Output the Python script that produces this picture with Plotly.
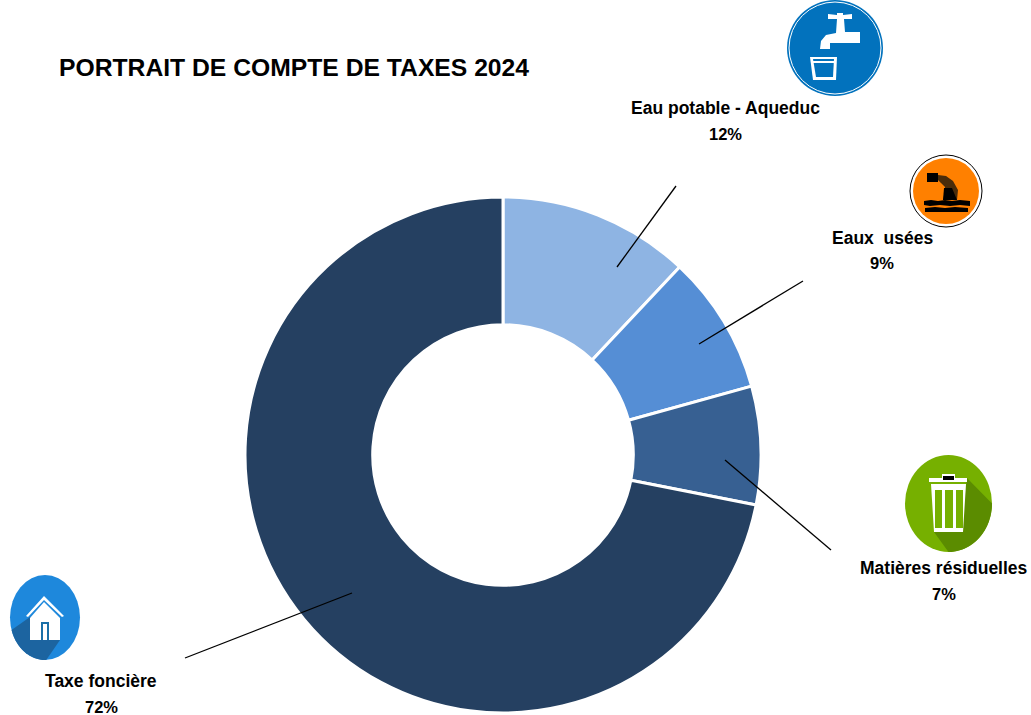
import math
import plotly.graph_objects as go

CATEGORIES = ["Eau potable - Aqueduc", "Eaux  usées", "Matières résiduelles", "Taxe foncière"]
VALUES = [12.0, 8.7, 7.4, 71.9]
SHOWN = ["12%", "9%", "7%", "72%"]
COLORS = ["#8EB4E3", "#558ED5", "#376092", "#254061"]
TITLE = "PORTRAIT DE COMPTE DE TAXES 2024"

W, H = 1031, 715
def X(x): return x / W
def Y(y): return 1 - y / H

fig = go.Figure(go.Pie(
    labels=CATEGORIES, values=VALUES, hole=0.505, sort=False, direction="clockwise", rotation=0,
    marker=dict(colors=COLORS, line=dict(color="white", width=3)),
    textinfo="none", hoverinfo="label+percent", showlegend=False,
    domain=dict(x=[X(245), X(761)], y=[Y(713), Y(197)]),
))

shapes, annots = [], []
def path(pts, fill, line=None, lw=0):
    d = "M " + " L ".join(f"{X(a):.5f},{Y(b):.5f}" for a, b in pts) + " Z"
    shapes.append(dict(type="path", xref="paper", yref="paper", path=d, fillcolor=fill,
                       line=dict(color=line or fill, width=lw)))
def ell(x0, y0, x1, y1, fill, line=None, lw=0):
    shapes.append(dict(type="circle", xref="paper", yref="paper", x0=X(x0), x1=X(x1), y0=Y(y1), y1=Y(y0),
                       fillcolor=fill, line=dict(color=line or fill, width=lw)))
def seg(x0, y0, x1, y1, col="black", lw=1.3):
    shapes.append(dict(type="line", xref="paper", yref="paper", x0=X(x0), x1=X(x1), y0=Y(y0), y1=Y(y1),
                       line=dict(color=col, width=lw)))
def arc(cx, cy, rx, ry, a0, a1, n=24):
    return [(cx + rx * math.cos(math.radians(a0 + (a1 - a0) * i / n)),
             cy + ry * math.sin(math.radians(a0 + (a1 - a0) * i / n))) for i in range(n + 1)]

# leader lines
seg(617, 267, 676, 186); seg(699, 344, 803, 281); seg(725, 460, 831, 550); seg(352, 593, 185, 658)

# water icon
BLUE = "#0272BD"
ell(787, 0, 883, 96, BLUE)
ell(789, 2, 881, 94, "rgba(0,0,0,0)", "white", 1)
path([(828,14),(837,15),(837,13),(843,13),(843,15),(852,14),(852,19),(844,19),(845,32),(860,32),(860,43),(830,43),(830,49),(820,49),(821,41),(826,35),(836,33),(837,19),(828,19)], "white")
path([(810,57),(837,57),(836,80),(813,80)], "white")
path([(813,59),(834,59),(833,77),(816,77)], BLUE)
path([(813,61),(834,61),(834,63),(813,63)], "white")

# waste-water icon
ell(910, 155, 982, 227, "white", "black", 1)
ell(913, 158, 979, 224, "#FF8000")
path([(927,173),(938,173),(938,182),(927,182)], "black")
path([(938,175),(946,176),(953,181),(958,190),(957,200),(943,200),(945,192),(945,187),(941,183),(938,180)], "#4A2C0A")
path([(944,188),(952,188),(957,200),(943,200)], "black")
path([(924,201),(931,200),(938,201),(945,200),(952,201),(960,200),(970,201),(970,206),(960,205),(950,206),(940,205),(930,206),(924,205)], "black")
path([(925,208),(935,207),(945,208),(955,207),(968,208),(968,212),(925,212)], "black")

# bin icon
GREEN = "#76B000"
ell(905, 455, 992, 552, GREEN)
path([(967,478)] + arc(948.5, 503.5, 43.5, 48.5, 0, 90) + [(934,532),(963,510)], "#5B8C00")
path([(942,474),(955,474),(955,478),(967,478),(967,482),(929,482),(929,478),(942,478)], "white")
path([(943,476),(954,476),(954,480),(943,480)], "black")
path([(931,484),(966,484),(963,532),(934,532)], "white")
for x0, x1 in ((935,942), (945,953), (956,963)):
    path([(x0,490),(x1,490),(x1,528),(x0,528)], GREEN)

# house icon
ell(10, 575, 80, 660, "#1E88DC")
path([(30,617)] + arc(45, 617.5, 35, 42.5, 163, 88) + [(60,640)], "#1C64A0")
path([(44,596),(64,616),(62,617),(44,600),(28,617),(26,616)], "white")
path([(44,602),(60,618),(60,640),(30,640),(30,618)], "white")
path([(41,622),(49,622),(49,640),(41,640)], "#1A6FA8")
path([(43,624),(47,624),(47,640),(43,640)], "white")

def label(cx, y, s, size=17.5):
    annots.append(dict(xref="paper", yref="paper", x=X(cx), y=Y(y), text=f"<b>{s}</b>", showarrow=False, xanchor="center",
                       yanchor="middle", font=dict(family="Liberation Sans", size=size, color="black")))
POS = [(725, 108, 134), (882, 238, 263), (944, 568, 594), (101, 681, 707)]
for (cx, y0, y1), c, s in zip(POS, CATEGORIES, SHOWN):
    label(cx, y0, c); label(cx, y1, s, 16.5)
annots.append(dict(xref="paper", yref="paper", x=X(59), y=Y(68), text=f"<b>{TITLE}</b>", showarrow=False, xanchor="left",
                   yanchor="middle", xshift=-2, font=dict(family="Liberation Sans", size=24.7, color="black")))

fig.update_layout(width=W, height=H, margin=dict(l=0, r=0, t=0, b=0), paper_bgcolor="white",
                  shapes=shapes, annotations=annots)
fig.write_html("out.html", post_script="document.body.style.margin='0';", config={"displayModeBar": False})
